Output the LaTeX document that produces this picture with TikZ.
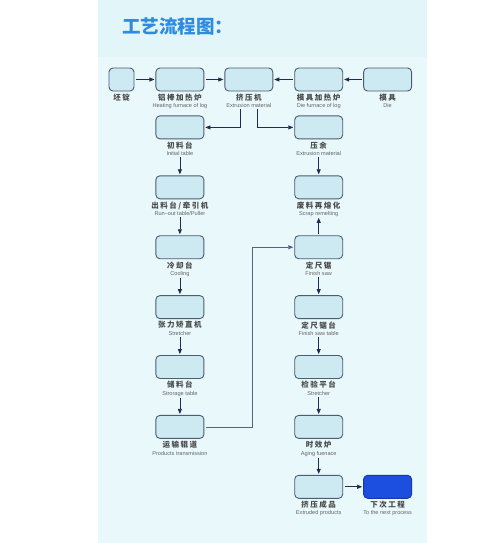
\documentclass[tikz,border=0pt]{standalone}
\usepackage{fontspec}
\setmainfont{Liberation Sans}
\newfontfamily\cjk{Noto Sans CJK SC}
\newfontfamily\cjkspaced[LetterSpace=20]{Noto Sans CJK SC}
\usetikzlibrary{arrows.meta,positioning}
\definecolor{Panel}{HTML}{E9F8FB}
\definecolor{PanelTop}{HTML}{E2F6FA}
\definecolor{Cell}{HTML}{CDE9F2}
\definecolor{Edge}{HTML}{4D5C70}
\definecolor{Deep}{HTML}{1C4EE0}
\definecolor{DeepEdge}{HTML}{1838A8}
\definecolor{Ink}{HTML}{232B55}
\definecolor{Caption}{HTML}{4A4A4A}
\definecolor{TitleBlue}{HTML}{2E8BE0}
\newcommand\en[1]{{\rmfamily\mdseries\color{Caption!85}\fontsize{5.6}{6}\selectfont #1}}
\tikzset{
  stage/.style={draw=Edge,fill=Cell,rounded corners=4pt,line width=0.9pt,minimum width=48pt,minimum height=23pt,inner sep=0pt},
  smallstage/.style={stage,minimum width=25pt},
  laststage/.style={stage,draw=DeepEdge,fill=Deep},
  tag/.style={align=center,inner sep=0pt,label distance=2.2pt,text=Caption,font=\cjkspaced\bfseries\fontsize{7.5}{7.3}\selectfont},
  headline/.style={anchor=west,inner sep=0pt,text=TitleBlue,font=\cjk\bfseries\fontsize{18.5}{18.5}\selectfont},
  line/.style={-{Triangle[length=5pt,width=4pt]},draw=Ink,line width=0.7pt,shorten >=1pt,shorten <=1.5pt},
  longline/.style={line,draw=Ink!75,line width=0.5pt}
}

\begin{document}
\begin{tikzpicture}[x=1pt,y=-1pt]
  \useasboundingbox (0,0) rectangle (501,543);
  % panel
  \fill[Panel] (98,0) rectangle (427,543);
  \fill[PanelTop] (98,0) rectangle (427,57);
  \node[headline] (title) at (122,26.5) {工艺流程图：};
  % top row
  \node[smallstage,label={[tag,name=ingot-l]below:{坯锭}}] (ingot) at (121.5,79.5) {};
  \node[stage,right=21pt of ingot,label={[tag,name=heat-l]below:{铝棒加热炉\\\en{Heating furnace of log}}}] (heat) {};
  \node[stage,right=20pt of heat,label={[tag,name=press-l]below:{挤压机\\\en{Extrusion material}}}] (press) {};
  \node[stage,right=21pt of press,label={[tag,name=dieheat-l]below:{模具加热炉\\\en{Die furnace of log}}}] (dieheat) {};
  \node[stage,right=20pt of dieheat,label={[tag,name=die-l]below:{模具\\\en{Die}}}] (die) {};
  % left column
  \node[stage,below=24pt of heat,label={[tag,name=init-l]below:{初料台\\\en{Initial table}}}] (init) {};
  \node[stage,below=36pt of init,label={[tag,name=runout-l]below:{出料台/牵引机\\\en{Run--out table/Puller}}}] (runout) {};
  \node[stage,below=36pt of runout,label={[tag,name=cool-l]below:{冷却台\\\en{Cooling}}}] (cool) {};
  \node[stage,below=36pt of cool,label={[tag,name=stretch-l]below:{张力矫直机\\\en{Stretcher}}}] (stretch) {};
  \node[stage,below=36pt of stretch,label={[tag,name=store-l]below:{储料台\\\en{Strorage table}}}] (store) {};
  \node[stage,below=36pt of store,label={[tag,name=trans-l]below:{运输辊道\\\en{Products transmission}}}] (trans) {};
  % right column
  \node[stage,below=24pt of dieheat,label={[tag,name=butt-l]below:{压余\\\en{Extrusion material}}}] (butt) {};
  \node[stage,below=36pt of butt,label={[tag,name=scrap-l]below:{废料再熔化\\\en{Scrap remelting}}}] (scrap) {};
  \node[stage,below=36pt of scrap,label={[tag,name=saw-l]below:{定尺锯\\\en{Finish saw}}}] (saw) {};
  \node[stage,below=36pt of saw,label={[tag,name=sawtable-l]below:{定尺锯台\\\en{Finish saw table}}}] (sawtable) {};
  \node[stage,below=36pt of sawtable,label={[tag,name=inspect-l]below:{检验平台\\\en{Stretcher}}}] (inspect) {};
  \node[stage,below=36pt of inspect,label={[tag,name=aging-l]below:{时效炉\\\en{Aging fuenace}}}] (aging) {};
  \node[stage,below=36pt of aging,label={[tag,name=product-l]below:{挤压成品\\\en{Extruded products}}}] (product) {};
  \node[laststage,right=20pt of product,label={[tag,name=next-l]below:{下次工程\\\en{To the next process}}}] (next) {};
  % connectors
  \draw[line] (ingot) -- (heat);
  \draw[line] (heat) -- (press);
  \draw[line] (dieheat) -- (press);
  \draw[line] (die) -- (dieheat);
  \draw[line] ([xshift=-8pt]press-l.south) |- (init);
  \draw[line] ([xshift=9pt]press-l.south) |- (butt);
  \draw[line] (init-l) -- (runout);
  \draw[line] (runout-l) -- (cool);
  \draw[line] (cool-l) -- (stretch);
  \draw[line] (stretch-l) -- (store);
  \draw[line] (store-l) -- (trans);
  \draw[line] (butt-l) -- (scrap);
  \draw[line] (saw) -- (scrap-l);
  \draw[line] (saw-l) -- (sawtable);
  \draw[line] (sawtable-l) -- (inspect);
  \draw[line] (inspect-l) -- (aging);
  \draw[line] (aging-l) -- (product);
  \draw[line] (product) -- (next);
  \draw[longline] (trans.east) -- ++(48pt,0) |- (saw);
\end{tikzpicture}
\end{document}
